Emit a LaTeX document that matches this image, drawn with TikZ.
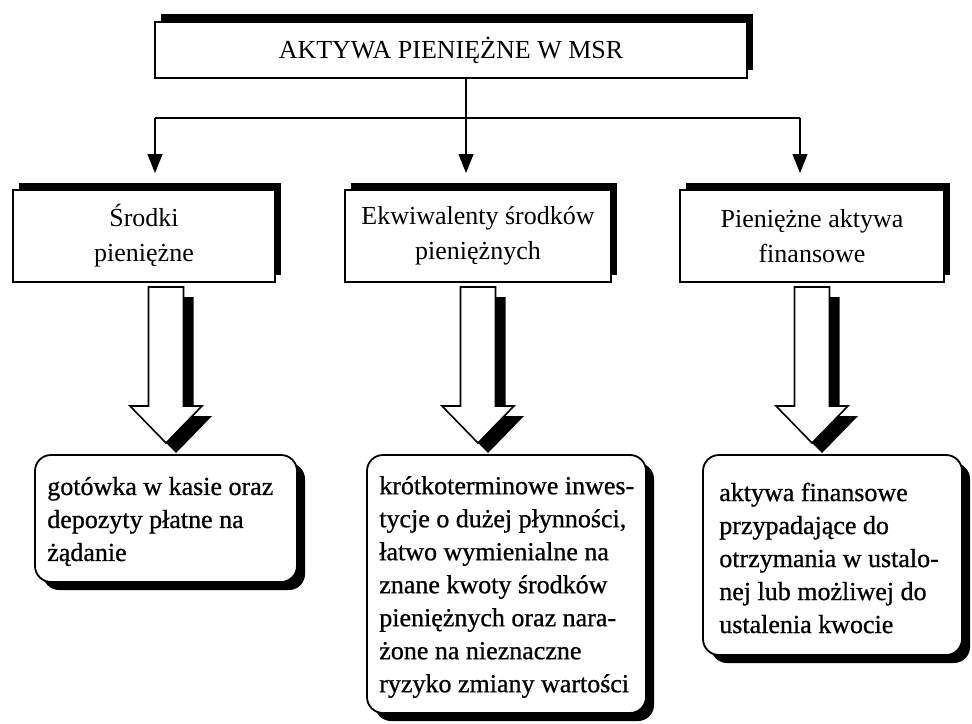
\documentclass[tikz,border=0pt]{standalone}
\usepackage{fontspec}
\setmainfont{Liberation Serif}
\newfontfamily\heavyserif[FakeBold=0.8]{Liberation Serif}
\usetikzlibrary{arrows.meta,shadows,calc}
\begin{document}
\begin{tikzpicture}[x=1pt,y=-1pt,
  topbox/.style={draw=black, line width=1.8pt, fill=white, inner sep=0pt, align=center,
    font=\fontsize{26}{34}\selectfont,
    drop shadow={shadow xshift=6pt, shadow yshift=8pt, fill=black, opacity=1}},
  midbox/.style={draw=black, line width=1.8pt, fill=white, inner sep=0pt, align=center,
    font=\fontsize{26}{35}\selectfont,
    drop shadow={shadow xshift=6pt, shadow yshift=7pt, fill=black, opacity=1}},
  botbox/.style={draw=black, line width=1.8pt, fill=white, rounded corners=16pt, inner sep=0pt,
    drop shadow={shadow xshift=8pt, shadow yshift=-8pt, fill=black, opacity=1}},
  bottext/.style={anchor=west, align=left, inner sep=0pt, font=\heavyserif\fontsize{26}{33}\selectfont},
  conn/.style={line width=1.4pt, draw=black},
  arr/.style={conn, -{Triangle[length=19pt,width=15pt]}},
  blockarrow/.pic={
    \fill[black] (-7.5,10) -- (27.5,10) -- (27.5,129) -- (46,129) -- (10,166) -- (-26,129) -- (-7.5,129) -- cycle;
    \draw[fill=white, line width=1.6pt, line join=miter] (-17.5,0) -- (17.5,0) -- (17.5,119) -- (36,119) -- (0,156) -- (-36,119) -- (-17.5,119) -- cycle;
  }]
\useasboundingbox (0,0) rectangle (972,723);
\fill[white] (0,0) rectangle (972,723);

% top box
\node[topbox, minimum width=592pt, minimum height=56pt] (top) at (451,50) {AKTYWA PIENIĘŻNE W MSR};

% middle boxes
\node[midbox, minimum width=262pt, minimum height=92pt] (m1) at (144,236) {Środki\\pieniężne};
\node[midbox, minimum width=266pt, minimum height=92pt] (m2) at (478,236) {Ekwiwalenty środków\\pieniężnych};
\node[midbox, minimum width=264pt, minimum height=92pt] (m3) at (812,236) {Pieniężne aktywa\\finansowe};

% connectors
\coordinate (j1) at (155,118);
\coordinate (j2) at (466,118);
\coordinate (j3) at (800,118);
\coordinate (t1) at (155,173);
\coordinate (t2) at (466,173);
\coordinate (t3) at (800,173);
\draw[conn] (j1) -- (j3);
\draw[arr] (top.south -| j2) -- (t2);
\draw[arr] (j1) -- (t1);
\draw[arr] (j3) -- (t3);

% bottom boxes
\node[botbox, minimum width=262pt, minimum height=127pt] (b1) at (166,518.5) {};
\node[botbox, minimum width=279pt, minimum height=258pt] (b2) at (506.5,584) {};
\node[botbox, minimum width=259pt, minimum height=200pt] (b3) at (832.5,555) {};

% block arrows
\pic at (166,287) {blockarrow};
\pic at (478,287) {blockarrow};
\pic at (812,287) {blockarrow};

% bottom texts
\node[bottext] (b1t) at ($(b1.west)+(13,3)$) {gotówka w kasie oraz\\depozyty płatne na\\żądanie};
\node[bottext] (b2t) at ($(b2.west)+(13,3)$) {krótkoterminowe inwes-\\tycje o dużej płynności,\\łatwo wymienialne na\\znane kwoty środków\\pieniężnych oraz nara-\\żone  na nieznaczne\\ryzyko zmiany wartości};
\node[bottext] (b3t) at ($(b3.west)+(17,3)$) {aktywa finansowe\\przypadające do\\otrzymania w ustalo-\\nej lub możliwej do\\ustalenia kwocie};
\end{tikzpicture}
\end{document}
